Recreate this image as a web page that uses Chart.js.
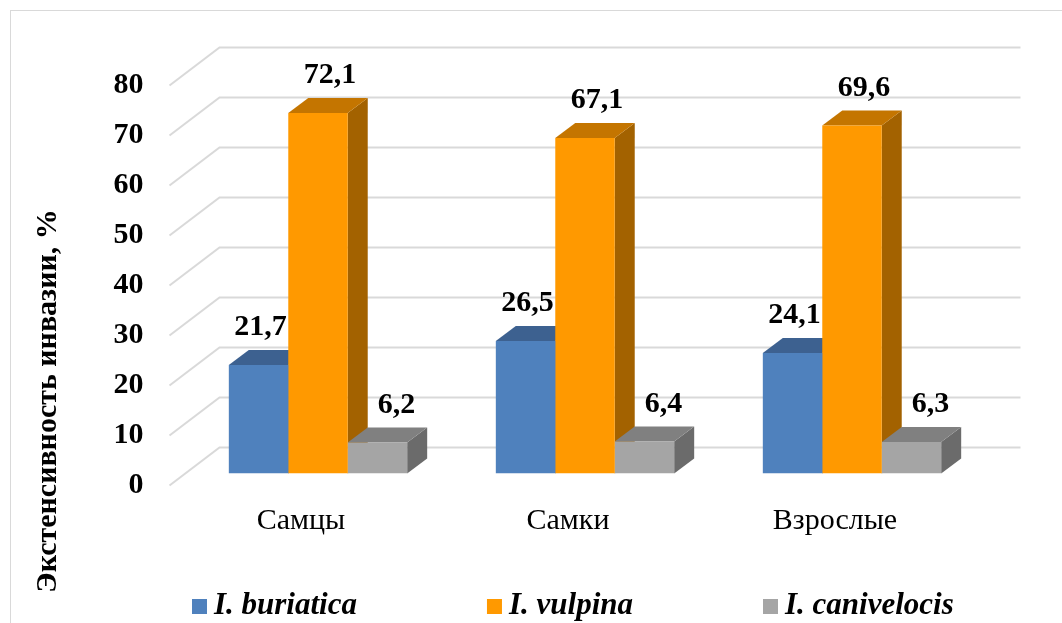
<!DOCTYPE html>
<html>
<head>
<meta charset="utf-8">
<script src="https://cdn.jsdelivr.net/npm/chart.js@4.4.1/dist/chart.umd.min.js"></script>
</head>
<body style="margin:0">
<div style="position:absolute; left:0; top:0; font-family:'Liberation Serif'; font-size:30px; color:#fff; z-index:-1">
    <span>Самцы</span><b>72,1</b><b><i>I. buriatica</i></b>
</div>
<canvas id="grafico01" width="1062" height="623" style="position:relative"></canvas>
<script>
// categories, series and axis ticks
var grupos = ['Самцы', 'Самки', 'Взрослые'];
var buriatica = [21.7, 26.5, 24.1];
var vulpina = [72.1, 67.1, 69.6];
var canivelocis = [6.2, 6.4, 6.3];
var yTicks = [0, 10, 20, 30, 40, 50, 60, 70, 80];

var fonte = "'Liberation Serif'";

// depth of the bars and offsets of the back wall / front edge from the bar plane
var DX = 20, DY = 15;
var wall = { dx: 35, dy: -26 };
var front = { dx: -15, dy: 12 };
var labelShift = [2, 12, 19];

function poly(c, pts) {
    c.beginPath();
    c.moveTo(pts[0][0], pts[0][1]);
    for (var i = 1; i < pts.length; i++) c.lineTo(pts[i][0], pts[i][1]);
    c.closePath();
    c.fill();
}

var cena3d = {
    id: 'cena3d',
    beforeDraw: function (chart) {
        var c = chart.ctx;
        c.save();
        c.fillStyle = '#fff';
        c.fillRect(0, 0, chart.width, chart.height);
        c.strokeStyle = '#d9d9d9';
        c.lineWidth = 1;
        c.strokeRect(10.5, 10.5, 1200, 800);
        c.restore();
    },
    beforeDatasetsDraw: function (chart) {
        var c = chart.ctx, a = chart.chartArea, y = chart.scales.y;
        c.save();
        // back wall + side wall lines
        c.strokeStyle = '#d9d9d9';
        c.lineWidth = 2;
        yTicks.forEach(function (v) {
            var py = y.getPixelForValue(v);
            c.beginPath();
            c.moveTo(a.left + front.dx, py + front.dy);
            c.lineTo(a.left + wall.dx, py + wall.dy);
            c.lineTo(a.right + wall.dx, py + wall.dy);
            c.stroke();
        });
        // tops and sides, left to right, so the next front face covers them
        for (var i = 0; i < grupos.length; i++) {
            chart.data.datasets.forEach(function (ds, d) {
                var bar = chart.getDatasetMeta(d).data[i];
                var x0 = bar.x - bar.width / 2, x1 = bar.x + bar.width / 2;
                var top = bar.y, base = bar.base;
                c.fillStyle = ds.sideColor;
                poly(c, [[x1, top], [x1 + DX, top - DY], [x1 + DX, base - DY], [x1, base]]);
                c.fillStyle = ds.topColor;
                poly(c, [[x0, top], [x0 + DX, top - DY], [x1 + DX, top - DY], [x1, top]]);
            });
        }
        c.restore();
    },
    afterDatasetsDraw: function (chart) {
        var c = chart.ctx;
        c.save();
        c.font = 'bold 30px ' + fonte;
        c.fillStyle = '#000';
        c.textAlign = 'center';
        c.textBaseline = 'alphabetic';
        chart.data.datasets.forEach(function (ds, d) {
            chart.getDatasetMeta(d).data.forEach(function (bar, i) {
                c.fillText(String(ds.data[i]).replace('.', ','), bar.x + labelShift[d], bar.y - 30);
            });
        });
        c.restore();
    },
    afterDraw: function (chart) {
        var c = chart.ctx;
        c.save();
        // axis title
        c.font = 'bold 30px ' + fonte;
        c.fillStyle = '#000';
        c.textAlign = 'center';
        c.textBaseline = 'middle';
        c.translate(48, 401);
        c.rotate(-Math.PI / 2);
        c.fillText('Экстенсивность инвазии, %', 0, 0);
        c.restore();

        // legend
        c.save();
        c.font = 'italic bold 31px ' + fonte;
        c.textBaseline = 'middle';
        c.textAlign = 'left';
        var x = 192;
        chart.data.datasets.forEach(function (ds) {
            c.fillStyle = ds.backgroundColor;
            c.fillRect(x, 599, 15, 15);
            c.fillStyle = '#000';
            c.fillText(ds.label, x + 22, 606);
            x += 22 + c.measureText(ds.label).width + 130;
        });
        c.restore();
    }
};

function grafico01() {
    var ctx = document.getElementById('grafico01');
    var myChart = new Chart(ctx, {
        type: 'bar',
        data: {
            labels: grupos,
            datasets: [
                {
                    label: 'I. buriatica',
                    data: buriatica,
                    backgroundColor: '#4f81bd',
                    topColor: '#3d6190',
                    sideColor: '#365880'
                },
                {
                    label: 'I. vulpina',
                    data: vulpina,
                    backgroundColor: '#ff9900',
                    topColor: '#c47500',
                    sideColor: '#a36200'
                },
                {
                    label: 'I. canivelocis',
                    data: canivelocis,
                    backgroundColor: '#a5a5a5',
                    topColor: '#808080',
                    sideColor: '#6b6b6b'
                }
            ]
        },
        options: {
            responsive: false,
            animation: false,
            devicePixelRatio: 1,
            categoryPercentage: 0.668,
            barPercentage: 1,
            borderWidth: 0,
            font: { family: fonte },
            layout: {
                padding: { top: 73.5, right: 76.5, left: 0, bottom: 0 }
            },
            plugins: {
                legend: { display: false },
                tooltip: { enabled: false }
            },
            scales: {
                x: {
                    grid: { display: false, drawTicks: false },
                    border: { display: false },
                    ticks: {
                        font: { family: fonte, size: 30 },
                        color: '#000',
                        labelOffset: -17,
                        padding: 30,
                        maxRotation: 0
                    },
                    afterFit: function (axis) { axis.height = 149.5; }
                },
                y: {
                    min: 0,
                    max: 80,
                    grid: { display: false, drawTicks: false },
                    border: { display: false },
                    ticks: {
                        font: { family: fonte, size: 30, weight: 'bold' },
                        color: '#000',
                        labelOffset: 12,
                        padding: 41
                    },
                    afterBuildTicks: function (axis) {
                        axis.ticks = yTicks.map(function (v) { return { value: v }; });
                    },
                    afterFit: function (axis) { axis.width = 184.5; }
                }
            }
        },
        plugins: [cena3d]
    });
}

grafico01();
</script>
</body>
</html>
